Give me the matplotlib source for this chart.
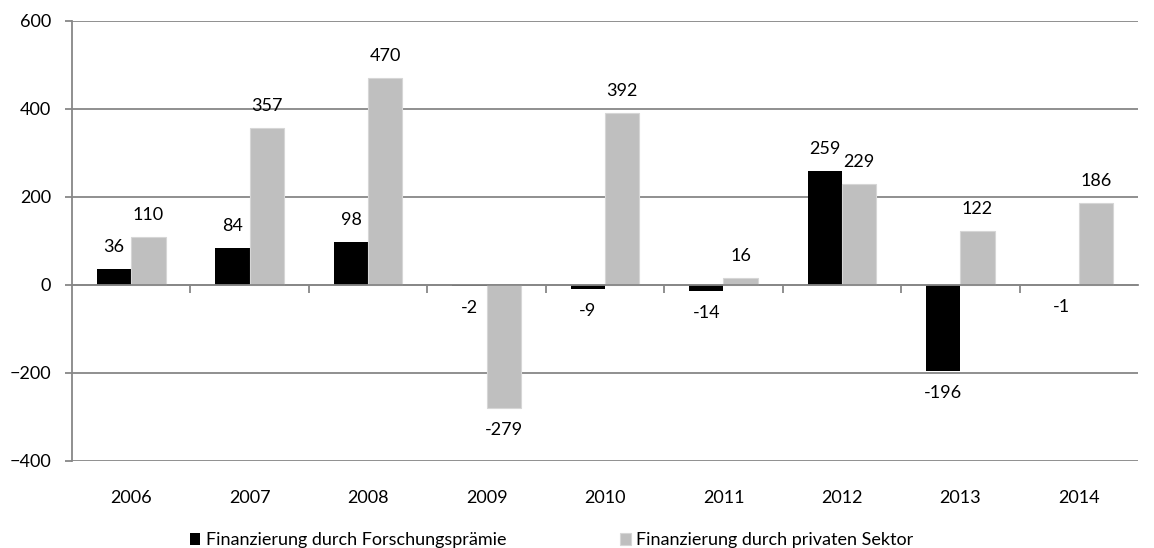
import matplotlib.pyplot as plt
from matplotlib.ticker import FixedLocator, NullFormatter
import numpy as np

plt.rcParams['font.family'] = ['Lato', 'DejaVu Sans']

years = ["2006", "2007", "2008", "2009", "2010", "2011", "2012", "2013", "2014"]
praemie = [36, 84, 98, -2, -9, -14, 259, -196, -1]
privat = [110, 357, 470, -279, 392, 16, 229, 122, 186]
series_names = ["Finanzierung durch Forschungsprämie", "Finanzierung durch privaten Sektor"]

BLACK = "#000000"
GREY = "#bfbfbf"
LINE = "#878787"

fig = plt.figure(figsize=(11.54, 5.48), dpi=100)
ax = fig.add_axes([0.0624, 0.1588, 0.9238, 0.8029])

x = np.arange(len(years))
w = 0.29
b1 = ax.bar(x - w / 2, praemie, w, color=BLACK, label=series_names[0], zorder=3)
b2 = ax.bar(x + w / 2, privat, w, color=GREY, edgecolor="#d6d6d6", linewidth=0.8,
            label=series_names[1], zorder=3)

# value labels outside the bar ends
for bars, vals in ((b1, praemie), (b2, privat)):
    for rect, v in zip(bars, vals):
        cx = rect.get_x() + rect.get_width() / 2
        if v >= 0:
            ax.annotate(str(v), (cx, v), xytext=(0, 10), textcoords="offset points",
                        ha="center", va="bottom", fontsize=13, zorder=4)
        else:
            ax.annotate(str(v), (cx, v), xytext=(0, -10), textcoords="offset points",
                        ha="center", va="top", fontsize=13, zorder=4)

ax.set_xlim(-0.5, len(years) - 0.5)
ax.set_ylim(-400, 600)
ax.set_yticks(range(-400, 601, 200))
ax.yaxis.grid(True, color=LINE, linewidth=1.3, zorder=0)
ax.set_axisbelow(True)

for s in ("top", "right"):
    ax.spines[s].set_visible(False)
ax.spines["left"].set_color(LINE)
ax.spines["left"].set_linewidth(1.3)
ax.spines["bottom"].set_position(("data", 0))
ax.spines["bottom"].set_color(LINE)
ax.spines["bottom"].set_linewidth(1.3)
ax.spines["bottom"].set_zorder(3.5)

# category boundary ticks on the zero line, labels at the bottom via secondary axis
ax.xaxis.set_major_locator(FixedLocator(np.arange(0.5, len(years) - 0.5, 1)))
ax.xaxis.set_major_formatter(NullFormatter())
ax.tick_params(axis="x", direction="out", length=6, width=1.3, color=LINE)
ax.tick_params(axis="y", direction="out", length=5, width=1.3, color=LINE,
               labelsize=13, pad=10)

sec = ax.secondary_xaxis("bottom")
sec.set_xticks(x)
sec.set_xticklabels(years)
sec.tick_params(length=0, labelsize=13, pad=21)
sec.spines["bottom"].set_visible(False)

fig.legend(handles=[b1, b2], loc="lower center", bbox_to_anchor=(0.478, -0.03),
           ncol=2, frameon=False, fontsize=13, handlelength=0.6, handleheight=0.6,
           handletextpad=0.3, columnspacing=6.3)

fig.savefig("out.png", dpi=100)
